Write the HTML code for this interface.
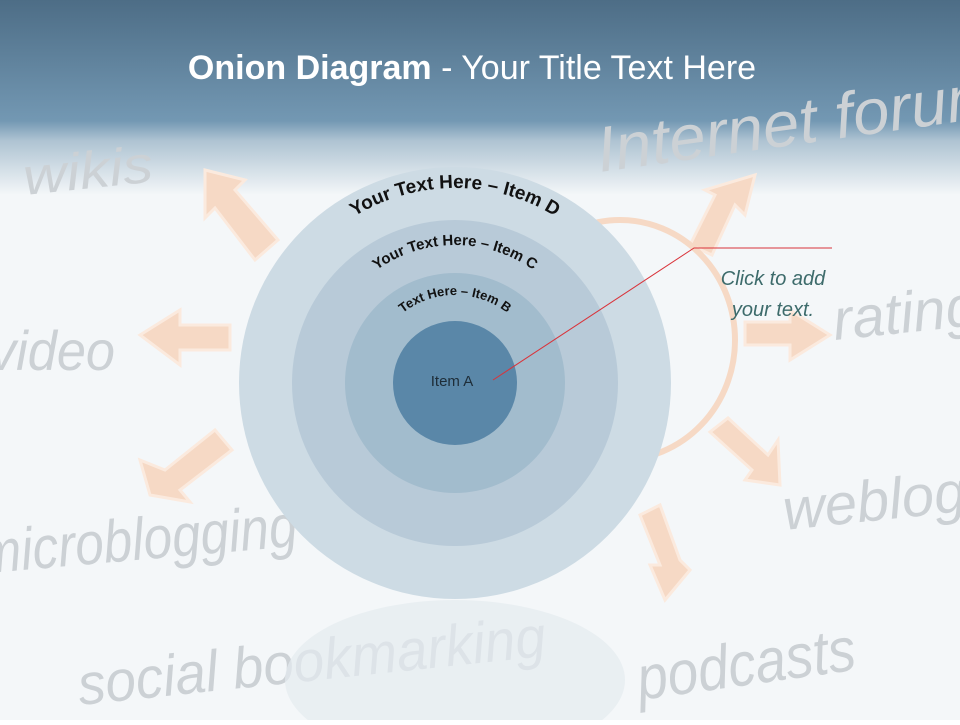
<!DOCTYPE html>
<html><head><style>
body{margin:0;width:960px;height:720px;overflow:hidden;font-family:"Liberation Sans",sans-serif}
</style></head><body>
<svg width="960" height="720" viewBox="0 0 960 720" xmlns="http://www.w3.org/2000/svg">
<defs>
<linearGradient id="hd" x1="0" y1="0" x2="0" y2="1">
<stop offset="0" stop-color="#4d6d86"/>
<stop offset="0.62" stop-color="#7398b3"/>
<stop offset="0.72" stop-color="#aec3d2"/>
<stop offset="1" stop-color="#f4f7f9"/>
</linearGradient>
<path id="pD" d="M 263 380 A 192 192 0 0 1 647 380"/>
<path id="pC" d="M 320 380 A 135 135 0 0 1 590 380"/>
<path id="pB" d="M 370 380 A 85 85 0 0 1 540 380"/>
</defs>
<rect width="960" height="720" fill="#f4f7f9"/>
<rect width="960" height="195" fill="url(#hd)"/>
<g fill="#ccd1d5" font-family="Liberation Sans, sans-serif" font-style="italic">
<text x="25" y="195" font-size="52" textLength="130" lengthAdjust="spacingAndGlyphs" transform="rotate(-6 25 195)">wikis</text>
<text x="600" y="172" font-size="64" textLength="440" lengthAdjust="spacingAndGlyphs" transform="rotate(-8 600 172)">Internet forums</text>
<text x="-10" y="370" font-size="56" textLength="125" lengthAdjust="spacingAndGlyphs">video</text>
<text x="835" y="340" font-size="58" transform="rotate(-6 835 340)">rating</text>
<text x="785" y="530" font-size="58" transform="rotate(-6 785 530)">weblogs</text>
<text x="-20" y="572" font-size="60" textLength="320" lengthAdjust="spacingAndGlyphs" transform="rotate(-5 0 572)">microblogging</text>
<text x="80" y="705" font-size="58" textLength="470" lengthAdjust="spacingAndGlyphs" transform="rotate(-6 80 705)">social bookmarking</text>
<text x="640" y="700" font-size="62" textLength="220" lengthAdjust="spacingAndGlyphs" transform="rotate(-8 640 700)">podcasts</text>
</g>
<g fill="#f6d9c5" stroke="#fbeade" stroke-width="3">
<polygon points="205,170 245,180 235,190 278,240 255,260 215,208 205,218"/>
<polygon points="140,335 180,310 180,325 230,325 230,350 180,350 180,365"/>
<polygon points="150,495 140,460 165,470 215,430 232,450 180,490 190,502"/>
<polygon points="755,175 745,215 735,205 712,255 690,245 715,195 705,190"/>
<polygon points="830,335 790,360 790,345 745,345 745,322 790,322 790,310"/>
<polygon points="780,485 745,480 752,470 710,432 728,418 768,455 778,440"/>
<polygon points="690,570 665,600 650,565 660,565 640,515 660,505 680,560"/>
</g>
<ellipse cx="620" cy="340" rx="115" ry="120" fill="none" stroke="#f6d9c5" stroke-width="6"/>
<ellipse cx="455" cy="680" rx="170" ry="80" fill="#e4ebf0" opacity="0.7"/>
<circle cx="455" cy="383" r="216" fill="#cddbe4"/>
<circle cx="455" cy="383" r="163" fill="#b8cad8"/>
<circle cx="455" cy="383" r="110" fill="#a2bccd"/>
<circle cx="455" cy="383" r="62" fill="#5a87a8"/>
<text font-size="19" font-weight="bold" fill="#111"><textPath href="#pD" startOffset="50%" text-anchor="middle">Your Text Here – Item D</textPath></text>
<text font-size="15" font-weight="bold" fill="#111"><textPath href="#pC" startOffset="50%" text-anchor="middle">Your Text Here – Item C</textPath></text>
<text font-size="13" font-weight="bold" fill="#111"><textPath href="#pB" startOffset="50%" text-anchor="middle">Text Here – Item B</textPath></text>
<text x="452" y="386" font-size="15" fill="#1e2d38" text-anchor="middle">Item A</text>
<polyline points="493,380 694,248 832,248" fill="none" stroke="#d9333a" stroke-width="1"/>
<text x="773" y="285" font-size="20" font-style="italic" fill="#3d6b6b" text-anchor="middle">Click  to add</text>
<text x="773" y="316" font-size="20" font-style="italic" fill="#3d6b6b" text-anchor="middle">your text.</text>
<text x="472" y="79" font-size="34" fill="#fff" text-anchor="middle"><tspan font-weight="bold">Onion Diagram</tspan> - Your Title Text Here</text>
</svg>
</body></html>
